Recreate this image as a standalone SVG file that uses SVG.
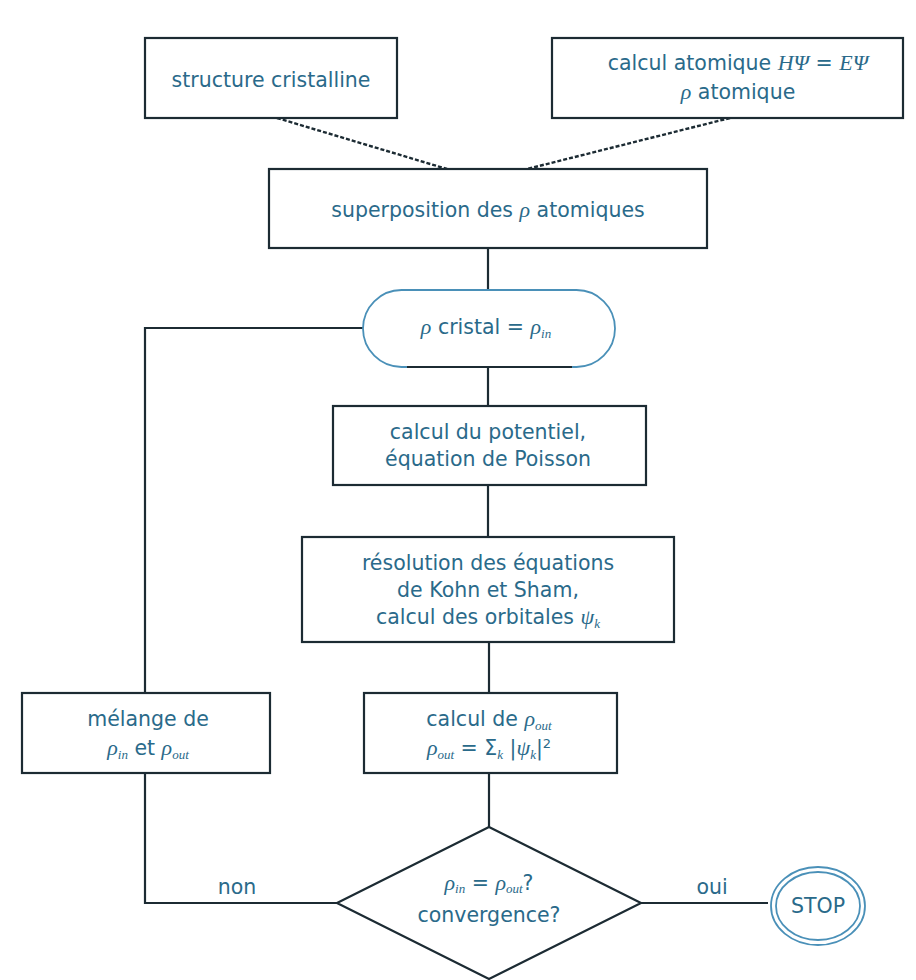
<svg xmlns="http://www.w3.org/2000/svg" width="916" height="980" viewBox="0 0 916 980">
<style>
.box{fill:#ffffff;stroke:#1c2b33;stroke-width:2.2}
.t{font-family:"DejaVu Sans","Liberation Sans",sans-serif;font-size:20.5px;fill:#2a6a8a;text-anchor:middle}
.m{font-family:"Liberation Serif","DejaVu Serif",serif;font-style:italic;font-size:22px}
.sub{font-size:13px}
.ln{fill:none;stroke:#1c2b33;stroke-width:2.2}
.dash{fill:none;stroke:#1c2b33;stroke-width:2.4;stroke-dasharray:4 2}
.blue{fill:none;stroke:#4a90b8;stroke-width:1.8}
</style>
<rect width="916" height="980" fill="#ffffff"/>
<g id="connectors">
<line class="dash" x1="277" y1="118" x2="447" y2="169"/>
<line class="dash" x1="730" y1="118" x2="527" y2="169"/>
<line class="ln" x1="488" y1="248" x2="488" y2="290"/>
<line class="ln" x1="488" y1="367" x2="488" y2="406"/>
<line class="ln" x1="488" y1="485" x2="488" y2="537"/>
<line class="ln" x1="489" y1="642" x2="489" y2="693"/>
<line class="ln" x1="489" y1="773" x2="489" y2="827"/>
<polyline class="ln" points="337,903 145,903 145,773"/>
<polyline class="ln" points="145,693 145,328 363,328"/>
<line class="ln" x1="641" y1="903" x2="768" y2="903"/>
<text class="t" x="237" y="894">non</text>
<text class="t" x="712" y="894">oui</text>
</g>
<g id="structure">
<rect class="box" x="145" y="38" width="252" height="80"/>
<text class="t" x="271" y="87">structure cristalline</text>
</g>
<g id="atomique">
<rect class="box" x="552" y="38" width="351" height="80"/>
<text class="t" x="738" y="70">calcul atomique <tspan class="m">HΨ</tspan> = <tspan class="m">EΨ</tspan></text>
<text class="t" x="738" y="99"><tspan class="m">ρ</tspan> atomique</text>
</g>
<g id="superposition">
<rect class="box" x="269" y="169" width="438" height="79"/>
<text class="t" x="488" y="217">superposition des <tspan class="m">ρ</tspan> atomiques</text>
</g>
<g id="cristal">
<rect class="blue" x="363" y="290" width="252" height="77" rx="38.5" ry="38.5"/>
<line x1="407" y1="367" x2="572" y2="367" stroke="#1c2b33" stroke-width="2"/>
<text class="t" x="486" y="334"><tspan class="m">ρ</tspan> cristal = <tspan class="m">ρ</tspan><tspan class="m sub" dy="4">in</tspan></text>
</g>
<g id="potentiel">
<rect class="box" x="333" y="406" width="313" height="79"/>
<text class="t" x="488" y="439">calcul du potentiel,</text>
<text class="t" x="488" y="466">équation de Poisson</text>
</g>
<g id="kohnsham">
<rect class="box" x="302" y="537" width="372" height="105"/>
<text class="t" x="488" y="570">résolution des équations</text>
<text class="t" x="488" y="597">de Kohn et Sham,</text>
<text class="t" x="488" y="624">calcul des orbitales <tspan class="m">ψ</tspan><tspan class="m sub" dy="4">k</tspan></text>
</g>
<g id="rhoout">
<rect class="box" x="364" y="693" width="253" height="80"/>
<text class="t" x="489" y="726">calcul de <tspan class="m">ρ</tspan><tspan class="m sub" dy="4">out</tspan></text>
<text class="t" x="489" y="755"><tspan class="m">ρ</tspan><tspan class="m sub" dy="4">out</tspan><tspan dy="-4"> = Σ</tspan><tspan class="m sub" dy="4">k</tspan><tspan dy="-4"> |</tspan><tspan class="m">ψ</tspan><tspan class="m sub" dy="4">k</tspan><tspan dy="-4">|</tspan><tspan class="sub" dy="-7">2</tspan></text>
</g>
<g id="melange">
<rect class="box" x="22" y="693" width="248" height="80"/>
<text class="t" x="148" y="726">mélange de</text>
<text class="t" x="148" y="755"><tspan class="m">ρ</tspan><tspan class="m sub" dy="4">in</tspan><tspan dy="-4"> et </tspan><tspan class="m">ρ</tspan><tspan class="m sub" dy="4">out</tspan></text>
</g>
<g id="convergence">
<polygon class="box" points="489,827 641,903 489,979 337,903"/>
<text class="t" x="489" y="890"><tspan class="m">ρ</tspan><tspan class="m sub" dy="3">in</tspan><tspan dy="-3"> = </tspan><tspan class="m">ρ</tspan><tspan class="m sub" dy="3">out</tspan><tspan dy="-3">?</tspan></text>
<text class="t" x="489" y="922">convergence?</text>
</g>
<g id="stop">
<ellipse class="blue" cx="818" cy="906" rx="47" ry="39"/>
<ellipse class="blue" cx="818" cy="906" rx="42" ry="34"/>
<text class="t" x="818" y="913">STOP</text>
</g>
</svg>
